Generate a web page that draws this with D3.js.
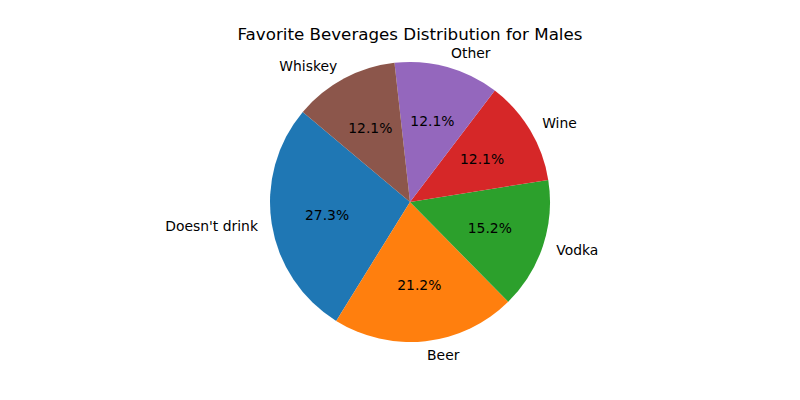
<!DOCTYPE html>
<html>
<head>
<meta charset="utf-8">
<script src="https://cdn.jsdelivr.net/npm/d3@7"></script>
<style>
  body { margin: 0; background: #fff; }
  text { font-family: "DejaVu Sans", sans-serif; fill: #000; }
</style>
</head>
<body>
<svg id="chart" width="800" height="400"></svg>
<script>
// data (counts out of 33)
var categories = ["Doesn't drink", "Beer", "Vodka", "Wine", "Other", "Whiskey"];
var counts = [9, 7, 5, 4, 4, 4];
var colors = ["#1f77b4", "#ff7f0e", "#2ca02c", "#d62728", "#9467bd", "#8c564b"];
var title = "Favorite Beverages Distribution for Males";

var W = 800, H = 400;
var cx = 410, cy = 202, r = 140;
var startDeg = 140; // matplotlib startangle, counterclockwise from 3 o'clock

var svg = d3.select('#chart');

// matplotlib goes counterclockwise, d3 clockwise from 12 o'clock
var a0 = Math.PI/2 - startDeg*Math.PI/180;
var pie = d3.pie().sort(null).startAngle(a0).endAngle(a0 - 2*Math.PI);
var arcs = pie(counts);
var total = d3.sum(counts);

var arc = d3.arc().innerRadius(0).outerRadius(r);

var g = svg.append('g').attr('transform', 'translate(' + cx + ',' + cy + ')');

g.selectAll('path').data(arcs).enter()
  .append('path')
  .attr('d', arc)
  .attr('fill', function (d, i) { return colors[i]; });

var mid = function (d) { return (d.startAngle + d.endAngle)/2; };

// outer labels at 1.1 r
g.selectAll('text.lbl').data(arcs).enter()
  .append('text')
  .attr('class', 'lbl')
  .attr('x', function (d) { return Math.sin(mid(d))*r*1.1; })
  .attr('y', function (d) { return -Math.cos(mid(d))*r*1.1; })
  .attr('dy', '0.35em')
  .attr('text-anchor', function (d) { return Math.sin(mid(d)) > 0 ? 'start' : 'end'; })
  .style('font-size', '13.9px')
  .text(function (d, i) { return categories[i]; });

// percentages at 0.6 r
g.selectAll('text.pct').data(arcs).enter()
  .append('text')
  .attr('class', 'pct')
  .attr('x', function (d) { return Math.sin(mid(d))*r*0.6; })
  .attr('y', function (d) { return -Math.cos(mid(d))*r*0.6; })
  .attr('dy', '0.35em')
  .attr('text-anchor', 'middle')
  .style('font-size', '13.9px')
  .text(function (d) { return (d.value/total*100).toFixed(1) + '%'; });

svg.append('text')
  .attr('x', cx)
  .attr('y', 40)
  .attr('text-anchor', 'middle')
  .style('font-size', '16.7px')
  .text(title);
</script>
</body>
</html>
